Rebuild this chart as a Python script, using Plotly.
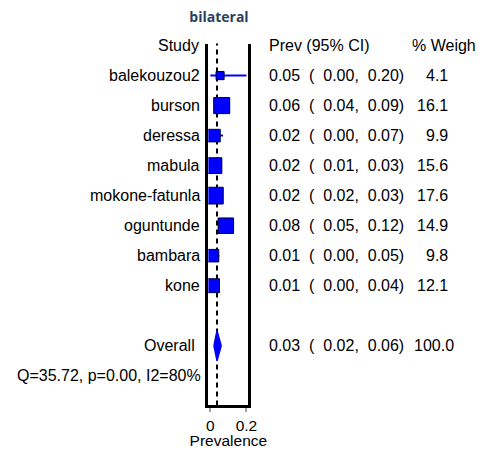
import plotly.graph_objects as go
import math

# ---- data ----
studies = ["balekouzou2", "burson", "deressa", "mabula", "mokone-fatunla",
           "oguntunde", "bambara", "kone"]
est = [0.054, 0.063, 0.02, 0.02, 0.025, 0.086, 0.012, 0.012]
lo = [0.00, 0.04, 0.00, 0.01, 0.02, 0.05, 0.00, 0.00]
hi = [0.20, 0.09, 0.07, 0.03, 0.03, 0.12, 0.05, 0.04]
weights = [4.1, 16.1, 9.9, 15.6, 17.6, 14.9, 9.8, 12.1]
prev = ["0.05", "0.06", "0.02", "0.02", "0.02", "0.08", "0.01", "0.01"]
ci_lo = ["0.00", "0.04", "0.00", "0.01", "0.02", "0.05", "0.00", "0.00"]
ci_hi = ["0.20", "0.09", "0.07", "0.03", "0.03", "0.12", "0.05", "0.04"]
overall_est = 0.037
overall_lo = 0.02
overall_hi = 0.06
overall_prev = ["0.03", "0.02", "0.06"]
overall_weight = "100.0"
het_text = "Q=35.72, p=0.00, I2=80%"
x_ticks = [0, 0.2]
x_ticklabels = ["0", "0.2"]

OFF = 8                      # page body margin
W, H = 497 - 2 * OFF, 457 - 2 * OFF
L, R, T, B = 211, 252, 44, 410   # plot box in window pixels
FONT = "Liberation Sans, Arial, sans-serif"
FS = 16
AFS = 15.5
NB = "\u00a0"


def px(xp):
    return (xp - OFF) / W


def citext(p, a, b):
    return f"{p}{NB}{NB}({NB}{NB}{a},{NB}{NB}{b})"


rows = list(range(1, len(studies) + 1))
overall_row = len(studies) + 2
het_row = overall_row + 1

fig = go.Figure()

# CI lines
cx, cy = [], []
for r, a, b in zip(rows, lo, hi):
    cx += [a, b, None]
    cy += [r, r, None]
fig.add_trace(go.Scatter(x=cx, y=cy, mode="lines",
                         line=dict(color="#0000ff", width=2),
                         hoverinfo="skip", showlegend=False))

# squares
fig.add_trace(go.Scatter(x=est, y=rows, mode="markers",
                         marker=dict(symbol="square", color="#0000ff", opacity=1,
                                     size=[4 * math.sqrt(w) for w in weights],
                                     line=dict(color="#000033", width=1)),
                         showlegend=False))

# overall diamond
fig.add_trace(go.Scatter(
    x=[overall_lo, overall_est, overall_hi, overall_est, overall_lo],
    y=[overall_row, overall_row - 0.5, overall_row, overall_row + 0.5, overall_row],
    mode="lines", fill="toself", fillcolor="#0000ff",
    line=dict(color="#0000ff", width=1.5), showlegend=False))

# dashed reference line
fig.add_shape(type="line", xref="x", yref="y domain", x0=overall_est, x1=overall_est,
              y0=0, y1=1, line=dict(color="black", width=2, dash="5px,4px"), layer="below")


def ann(text, xp, row, anchor):
    fig.add_annotation(text=text, x=px(xp), xref="paper", y=row, yref="y",
                       xanchor=anchor, yanchor="middle", showarrow=False,
                       font=dict(family=FONT, size=FS, color="black"))


ann("Study", 203, 0, "right")
ann("Prev (95% CI)", 271, 0, "left")
ann("% Weigh", 417, 0, "left")
for r, s, p, a, b, w in zip(rows, studies, prev, ci_lo, ci_hi, weights):
    ann(s, 204, r, "right")
    ann(citext(p, a, b), 271, r, "left")
    ann(f"{w:.1f}", 458, r, "right")
ann("Overall", 199, overall_row, "right")
ann(citext(*overall_prev), 271, overall_row, "left")
ann(overall_weight, 464, overall_row, "right")
ann(het_text, 206, het_row, "right")

fig.update_layout(
    width=W, height=H,
    margin=dict(l=0, r=0, t=0, b=0),
    paper_bgcolor="white", plot_bgcolor="white",
    title=dict(text="<b>bilateral</b>", x=(219 - OFF) / W, xanchor="center",
               y=1 - (17 - OFF) / H, yanchor="middle",
               font=dict(family="Open Sans", size=14, color="#2a3f5f")),
    xaxis=dict(domain=[(L - OFF) / W, (R - OFF) / W],
               range=[-0.011, 0.211], tickvals=x_ticks, ticktext=x_ticklabels,
               ticks="outside", ticklen=4, tickcolor="#a0a0a0", tickwidth=2,
               ticklabelstandoff=0,
               showline=True, linecolor="black", linewidth=3, mirror=False,
               showgrid=False, zeroline=False,
               tickfont=dict(family=FONT, size=AFS, color="black"),
               title=dict(text="Prevalence", standoff=4,
                          font=dict(family=FONT, size=AFS, color="black"))),
    yaxis=dict(domain=[1 - (B - OFF) / H, 1 - (T - OFF) / H],
               range=[11.99, -0.066], showticklabels=False, ticks="",
               showline=True, linecolor="black", linewidth=3, mirror=True,
               showgrid=False, zeroline=False),
)

fig.write_html("out.html")
